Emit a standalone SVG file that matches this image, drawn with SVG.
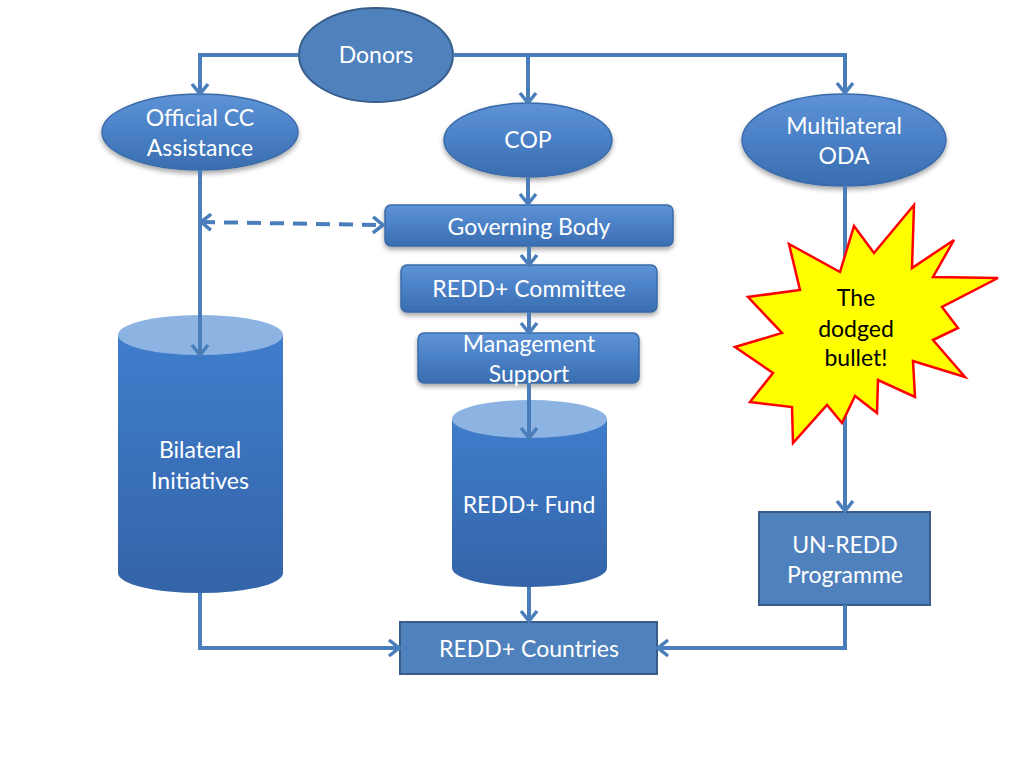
<svg xmlns="http://www.w3.org/2000/svg" width="1024" height="768" viewBox="0 0 1024 768">
<defs>
<style>
.t{font-family:Lato,"Liberation Sans",sans-serif;font-size:23px;fill:#fff;text-anchor:middle}
.tb{font-family:Lato,"Liberation Sans",sans-serif;font-size:23px;fill:#000;text-anchor:middle}
.bev{fill:url(#bevel);stroke:#3A6BA8;stroke-width:1.5;filter:url(#sh)}
.flat{fill:#4F81BD;stroke:#385D8A;stroke-width:2}
.cylb{fill:url(#cyl);stroke:none}
.cylt{fill:#8DB3E2;stroke:none}
.c{fill:none;stroke:#4A7EBB;stroke-width:4}
.ca{marker-end:url(#ah)}
.dash{stroke-dasharray:14 9;marker-start:url(#ah);marker-end:url(#ah)}
</style>
<linearGradient id="bevel" x1="0" y1="0" x2="0" y2="1">
<stop offset="0" stop-color="#5E93D6"/>
<stop offset="0.5" stop-color="#4A80C6"/>
<stop offset="1" stop-color="#3A6DB0"/>
</linearGradient>
<linearGradient id="cyl" x1="0" y1="0" x2="0" y2="1">
<stop offset="0" stop-color="#3F7DCC"/>
<stop offset="1" stop-color="#3464A8"/>
</linearGradient>
<filter id="sh" x="-20%" y="-20%" width="140%" height="150%">
<feDropShadow dx="0" dy="3" stdDeviation="2.5" flood-color="#000" flood-opacity="0.35"/>
</filter>
<marker id="ah" viewBox="0 0 14 20" refX="12" refY="10" markerWidth="14" markerHeight="20" markerUnits="userSpaceOnUse" orient="auto-start-reverse">
<path d="M2,2 L12,10 L2,18" fill="none" stroke="#4A7EBB" stroke-width="3.5"/>
</marker>
</defs>
<rect width="1024" height="768" fill="#fff"/>

<g id="donors">
<ellipse class="flat" cx="376" cy="55" rx="77" ry="47"/>
<text class="t" x="376" y="63">Donors</text>
</g>
<g id="official-cc">
<ellipse class="bev" cx="200" cy="132" rx="98" ry="38"/>
<text class="t" x="200" y="126">Official CC</text>
<text class="t" x="200" y="156">Assistance</text>
</g>
<g id="cop">
<ellipse class="bev" cx="528" cy="140" rx="84" ry="37"/>
<text class="t" x="528" y="148">COP</text>
</g>
<g id="multilateral-oda">
<ellipse class="bev" cx="844" cy="140" rx="102" ry="46"/>
<text class="t" x="844" y="134">Multilateral</text>
<text class="t" x="844" y="164">ODA</text>
</g>
<g id="governing-body">
<rect class="bev" x="385" y="205" width="288" height="41" rx="6"/>
<text class="t" x="529" y="235">Governing Body</text>
</g>
<g id="redd-committee">
<rect class="bev" x="401" y="265" width="256" height="47" rx="6"/>
<text class="t" x="529" y="297">REDD+ Committee</text>
</g>
<g id="management-support">
<rect class="bev" x="418" y="333" width="221" height="50" rx="6"/>
<text class="t" x="529" y="352">Management</text>
<text class="t" x="529" y="382">Support</text>
</g>
<g id="bilateral-initiatives">
<path class="cylb" d="M118,335 V573 A82.5,20 0 0 0 283,573 V335 Z"/>
<ellipse class="cylt" cx="200.5" cy="335" rx="82.5" ry="20"/>
<text class="t" x="200" y="458">Bilateral</text>
<text class="t" x="200" y="489">Initiatives</text>
</g>
<g id="redd-fund">
<path class="cylb" d="M452,419 V568 A77.5,19 0 0 0 607,568 V419 Z"/>
<ellipse class="cylt" cx="529.5" cy="419" rx="77.5" ry="19"/>
<text class="t" x="529" y="513">REDD+ Fund</text>
</g>
<g id="un-redd">
<rect class="flat" x="759" y="512" width="171" height="93"/>
<text class="t" x="845" y="553">UN-REDD</text>
<text class="t" x="845" y="583">Programme</text>
</g>
<g id="redd-countries">
<rect class="flat" x="400" y="622" width="257" height="52"/>
<text class="t" x="529" y="657">REDD+ Countries</text>
</g>

<g id="connectors">
<path class="c ca" d="M298,55 H200 V94"/>
<path class="c ca" d="M453,55 H845 V93"/>
<path class="c ca" d="M528,55 V103"/>
<path class="c ca" d="M528,177 V204"/>
<path class="c ca" d="M529,246 V265"/>
<path class="c ca" d="M529,312 V333"/>
<path class="c ca" d="M529,383 V438"/>
<path class="c ca" d="M200,170 V355"/>
<path class="c dash" d="M201,222 L383,225"/>
<path class="c ca" d="M529,587 V621"/>
<path class="c ca" d="M200,593 V648 H399"/>
<path class="c ca" d="M845,187 V511"/>
<path class="c ca" d="M845,605 V648 H658"/>
</g>

<g id="dodged-bullet">
<polygon points="789,244 840,272 854,226 874,253 914,205 912,268 954,240 933,277 998,278 942,307 958,328 933,340 965,377 913,361 915,397 878,380 877,413 855,396 842,423 827,405 793,443 792,407 750,402 773,373 735,347 782,333 748,297 800,290" fill="#FFFF00" stroke="#FF0000" stroke-width="2.5" stroke-linejoin="miter"/>
<text class="tb" x="856" y="306">The</text>
<text class="tb" x="856" y="337">dodged</text>
<text class="tb" x="856" y="366">bullet!</text>
</g>
</svg>
